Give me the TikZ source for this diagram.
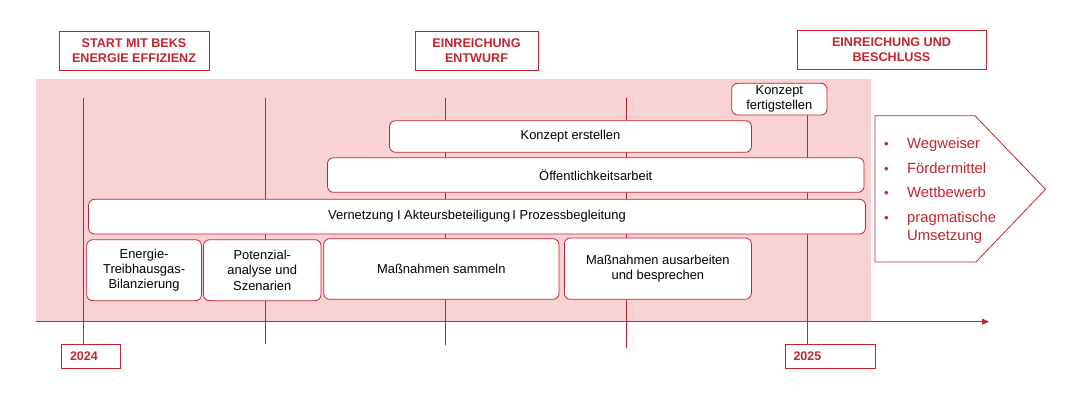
\documentclass[tikz,border=0pt]{standalone}
\usepackage{fontspec}
\setmainfont{Liberation Sans}
\usetikzlibrary{arrows.meta}
\definecolor{bred}{RGB}{196,36,46}
\definecolor{bpink}{RGB}{249,210,213}
\begin{document}
\begin{tikzpicture}[x=1pt,y=-1pt,
  actbox/.style={draw=bred,line width=0.8pt,fill=white,rounded corners=6pt,
    inner sep=0pt,align=center,font=\fontsize{12.9}{15.2}\selectfont,text=black},
  headbox/.style={draw=bred,line width=0.8pt,fill=white,inner sep=0pt,align=center,
    font=\fontsize{12.6}{15}\selectfont\bfseries,text=bred},
  yearbox/.style={draw=bred,line width=0.8pt,fill=white,inner ysep=0pt,inner xsep=8.5pt,
    align=left,font=\fontsize{12.5}{15}\selectfont\bfseries,text=bred},
  tick/.style={draw=bred,line width=0.8pt},
  bul/.style={anchor=base,font=\fontsize{13}{15}\selectfont,text=bred,inner sep=0pt},
  bultext/.style={anchor=base west,font=\fontsize{14.8}{17}\selectfont,text=bred,inner sep=0pt}]
\useasboundingbox (0,0) rectangle (1080,400);
% pink background
\fill[bpink] (36,79) rectangle (870.7,321.7);
% tick lines
\coordinate (t1) at (83,98.3);
\coordinate (t2) at (265.5,98.3);
\coordinate (t2b) at (265.5,344);
\coordinate (t3) at (445,98.3);
\coordinate (t3b) at (445,345.3);
\coordinate (t4) at (626,98.3);
\coordinate (t4b) at (626,347.7);
\coordinate (t5) at (807.6,115);
% year boxes
\node[yearbox,minimum width=59pt,minimum height=24pt,text width=42pt] (y2024) at (91,356) {2024};
\node[yearbox,minimum width=90.4pt,minimum height=24pt,text width=73.4pt] (y2025) at (830.2,356) {2025};
\draw[tick] (t1) -- (t1 |- y2024.north);
\draw[tick] (t2) -- (t2b);
\draw[tick] (t3) -- (t3b);
\draw[tick] (t4) -- (t4b);
\draw[tick] (t5) -- (t5 |- y2025.north);
% axis
\coordinate (axs) at (36,321.7);
\coordinate (axe) at (989,321.7);
\draw[draw=bred,line width=0.8pt,-{Triangle[length=7pt,width=6pt]}] (axs) -- (axe);
% header boxes
\node[headbox,minimum width=150pt,minimum height=39pt] (start) at (134,50.5) {START MIT BEKS\\ENERGIE EFFIZIENZ};
\node[headbox,minimum width=123pt,minimum height=39pt] (entw) at (476.5,51) {EINREICHUNG\\ENTWURF};
\node[headbox,minimum width=189pt,minimum height=39pt] (besch) at (891.5,50) {EINREICHUNG UND\\BESCHLUSS};
% activity boxes
\node[actbox,minimum width=95.3pt,minimum height=31.7pt] (kfert) at (779.35,99.15) {Konzept\\fertigstellen};
\node[actbox,minimum width=362pt,minimum height=31.6pt] (kerst) at (570.5,136.5) {Konzept erstellen};
\node[actbox,minimum width=536.5pt,minimum height=34.6pt] (oeff) at (595.75,175) {Öffentlichkeitsarbeit};
\node[actbox,minimum width=776.9pt,minimum height=34.7pt] (vern) at (477,216.65) {Vernetzung I Akteursbeteiligung\,I Prozessbegleitung};
\node[actbox,minimum width=114.8pt,minimum height=61pt] (energie) at (144.1,270.2) {Energie-\\Treibhausgas-\\Bilanzierung};
\node[actbox,minimum width=117.5pt,minimum height=61pt] (potenz) at (262.25,270.2) {Potenzial-\\analyse und\\Szenarien};
\node[actbox,minimum width=235.3pt,minimum height=60.6pt] (msamm) at (441.35,269) {Maßnahmen sammeln};
\node[actbox,minimum width=187pt,minimum height=61.3pt] (maus) at (657.9,268.65) {Maßnahmen ausarbeiten\\und besprechen};
% result pentagon
\draw[draw=bred,line width=0.8pt,fill=white] (875,115.7) -- (975,115.7) -- (1045.5,189.3) -- (976,262) -- (875,262) -- cycle;
\node[bul] (b1) at (886.5,148) {•};
\node[bultext] (w1) at (907,148) {Wegweiser};
\node[bul] (b2) at (886.5,173) {•};
\node[bultext] (w2) at (907,173) {Fördermittel};
\node[bul] (b3) at (886.5,197) {•};
\node[bultext] (w3) at (907,197) {Wettbewerb};
\node[bul] (b4) at (886.5,222) {•};
\node[bultext] (w4) at (907,222) {pragmatische};
\node[bultext] (w5) at (907,240) {Umsetzung};
\end{tikzpicture}
\end{document}
